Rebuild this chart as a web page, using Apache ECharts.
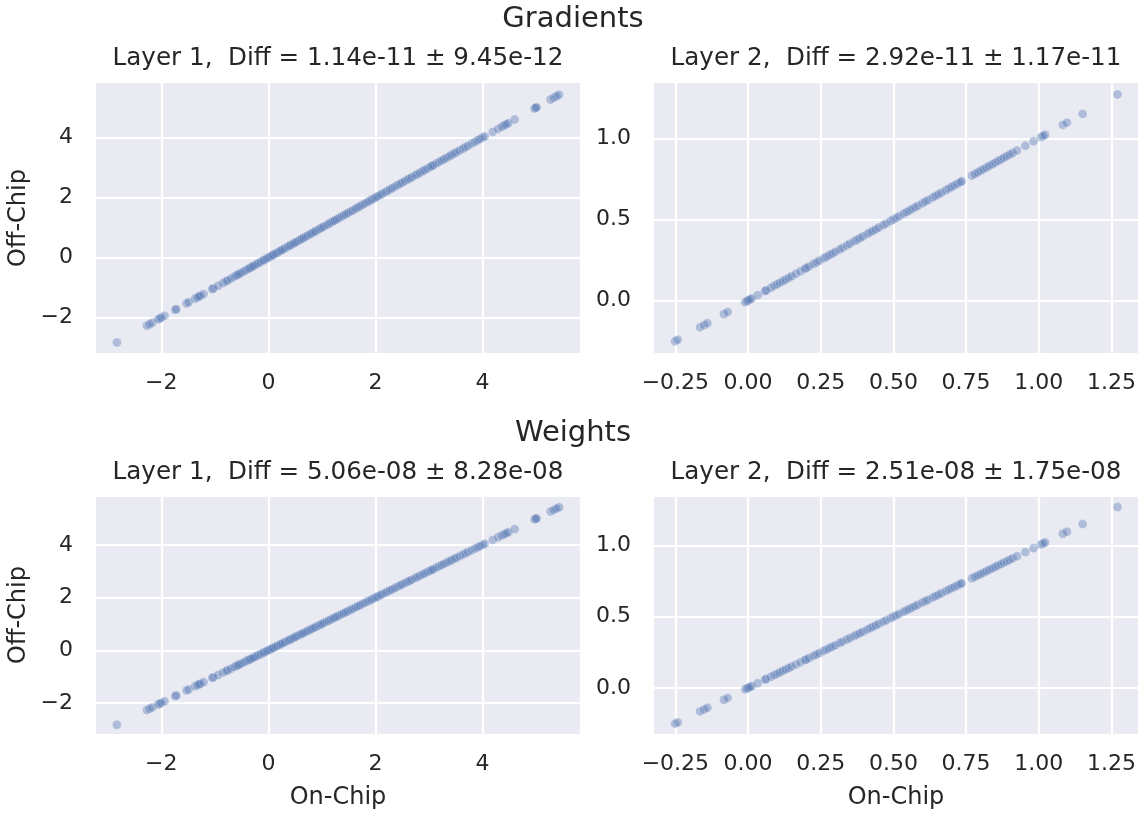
<!DOCTYPE html>
<html>
<head>
<meta charset="utf-8">
<script src="https://cdn.jsdelivr.net/npm/echarts@6/dist/echarts.min.js"></script>
<style>
html,body{margin:0;padding:0;background:#fff;}
#chart{width:1146px;height:819px;}
</style>
</head>
<body>
<div id="chart"></div>
<script>
// ---- Data (on-chip vs off-chip values) ----
const layer1OnChip = [-2.83,-2.27,-2.22,-2.17,-2.06,-2.03,-2.0,-1.94,-1.74,-1.72,-1.53,-1.49,-1.37,-1.33,-1.3,-1.27,-1.21,-1.05,-1.03,-0.94,-0.85,-0.79,-0.76,-0.7,-0.64,-0.6,-0.57,-0.54,-0.5,-0.45,-0.41,-0.37,-0.35,-0.32,-0.29,-0.26,-0.22,-0.18,-0.14,-0.1,-0.08,-0.04,-0.01,0.02,0.05,0.08,0.1,0.14,0.17,0.21,0.24,0.27,0.31,0.36,0.39,0.42,0.46,0.49,0.52,0.56,0.6,0.63,0.66,0.7,0.74,0.78,0.81,0.85,0.88,0.93,0.97,1.0,1.04,1.09,1.13,1.17,1.21,1.24,1.28,1.32,1.37,1.41,1.45,1.49,1.54,1.58,1.63,1.67,1.71,1.76,1.8,1.85,1.89,1.93,1.97,2.01,2.04,2.09,2.12,2.18,2.22,2.27,2.31,2.36,2.41,2.46,2.5,2.55,2.6,2.64,2.68,2.74,2.78,2.83,2.88,2.92,2.97,3.02,3.05,3.08,3.14,3.19,3.24,3.28,3.33,3.38,3.42,3.47,3.51,3.57,3.63,3.68,3.73,3.8,3.86,3.91,3.95,4.0,4.04,4.19,4.29,4.36,4.4,4.44,4.48,4.6,4.97,4.99,5.01,5.27,5.33,5.38,5.43];
const layer1OffChip = [-2.83,-2.27,-2.22,-2.17,-2.06,-2.03,-2.0,-1.94,-1.74,-1.72,-1.53,-1.49,-1.37,-1.33,-1.3,-1.27,-1.21,-1.05,-1.03,-0.94,-0.85,-0.79,-0.76,-0.7,-0.64,-0.6,-0.57,-0.54,-0.5,-0.45,-0.41,-0.37,-0.35,-0.32,-0.29,-0.26,-0.22,-0.18,-0.14,-0.1,-0.08,-0.04,-0.01,0.02,0.05,0.08,0.1,0.14,0.17,0.21,0.24,0.27,0.31,0.36,0.39,0.42,0.46,0.49,0.52,0.56,0.6,0.63,0.66,0.7,0.74,0.78,0.81,0.85,0.88,0.93,0.97,1.0,1.04,1.09,1.13,1.17,1.21,1.24,1.28,1.32,1.37,1.41,1.45,1.49,1.54,1.58,1.63,1.67,1.71,1.76,1.8,1.85,1.89,1.93,1.97,2.01,2.04,2.09,2.12,2.18,2.22,2.27,2.31,2.36,2.41,2.46,2.5,2.55,2.6,2.64,2.68,2.74,2.78,2.83,2.88,2.92,2.97,3.02,3.05,3.08,3.14,3.19,3.24,3.28,3.33,3.38,3.42,3.47,3.51,3.57,3.63,3.68,3.73,3.8,3.86,3.91,3.95,4.0,4.04,4.19,4.29,4.36,4.4,4.44,4.48,4.6,4.97,4.99,5.01,5.27,5.33,5.38,5.43];
const layer2OnChip = [-0.251,-0.242,-0.165,-0.151,-0.14,-0.083,-0.07,-0.01,-0.004,0.0,0.006,0.012,0.033,0.058,0.062,0.078,0.09,0.1,0.11,0.12,0.13,0.14,0.15,0.165,0.18,0.195,0.2,0.21,0.225,0.235,0.245,0.26,0.27,0.28,0.29,0.3,0.315,0.325,0.34,0.35,0.365,0.375,0.385,0.395,0.41,0.42,0.43,0.44,0.45,0.465,0.475,0.49,0.5,0.51,0.52,0.535,0.545,0.555,0.565,0.575,0.585,0.6,0.61,0.62,0.635,0.645,0.655,0.665,0.68,0.69,0.7,0.71,0.72,0.73,0.735,0.77,0.78,0.79,0.8,0.81,0.82,0.83,0.84,0.85,0.86,0.87,0.88,0.89,0.9,0.91,0.925,0.954,0.982,1.008,1.015,1.022,1.083,1.097,1.151,1.271];
const layer2OffChip = [-0.251,-0.242,-0.165,-0.151,-0.14,-0.083,-0.07,-0.01,-0.004,0.0,0.006,0.012,0.033,0.058,0.062,0.078,0.09,0.1,0.11,0.12,0.13,0.14,0.15,0.165,0.18,0.195,0.2,0.21,0.225,0.235,0.245,0.26,0.27,0.28,0.29,0.3,0.315,0.325,0.34,0.35,0.365,0.375,0.385,0.395,0.41,0.42,0.43,0.44,0.45,0.465,0.475,0.49,0.5,0.51,0.52,0.535,0.545,0.555,0.565,0.575,0.585,0.6,0.61,0.62,0.635,0.645,0.655,0.665,0.68,0.69,0.7,0.71,0.72,0.73,0.735,0.77,0.78,0.79,0.8,0.81,0.82,0.83,0.84,0.85,0.86,0.87,0.88,0.89,0.9,0.91,0.925,0.954,0.982,1.008,1.015,1.022,1.083,1.097,1.151,1.271];

// Tick values
const layer1Ticks = [-2, 0, 2, 4];
const layer2XTicks = [-0.25, 0, 0.25, 0.5, 0.75, 1.0, 1.25];
const layer2YTicks = [0, 0.5, 1.0];

// Titles
const rowTitles = ['Gradients', 'Weights'];
const panelTitles = [
  'Layer 1,  Diff = 1.14e-11 \u00b1 9.45e-12',
  'Layer 2,  Diff = 2.92e-11 \u00b1 1.17e-11',
  'Layer 1,  Diff = 5.06e-08 \u00b1 8.28e-08',
  'Layer 2,  Diff = 2.51e-08 \u00b1 1.75e-08'
];
const xAxisName = 'On-Chip';
const yAxisName = 'Off-Chip';

// ---- Chart ----
const FONT = 'DejaVu Sans';
const TXT = '#262626';
const fmtMinus = s => s.replace('-', '\u2212');

const grids = [
  {left: 96, top: 83, width: 484, height: 270},
  {left: 654, top: 83, width: 484, height: 270},
  {left: 96, top: 497, width: 484, height: 237},
  {left: 654, top: 497, width: 484, height: 237}
];

function valAxis(gi, dim, min, max, ticks, fmt) {
  return {
    type: 'value', gridIndex: gi, min: min, max: max,
    axisLine: {show: false},
    axisTick: {show: false, customValues: ticks},
    axisLabel: {
      customValues: ticks, color: TXT, fontFamily: FONT, fontSize: 22,
      margin: dim === 'x' ? 19 : 23,
      formatter: v => fmtMinus(fmt(v))
    },
    splitLine: {show: true, lineStyle: {color: '#ffffff', width: 2.2}}
  };
}

const f1 = v => String(Math.round(v));
const f2x = v => v.toFixed(2);
const f2y = v => v.toFixed(1);

const xAxes = [], yAxes = [], series = [];
const panels = [
  {on: layer1OnChip, off: layer1OffChip, xr: [-3.22, 5.82], yr: [-3.18, 5.82], xt: layer1Ticks, yt: layer1Ticks, fx: f1, fy: f1},
  {on: layer2OnChip, off: layer2OffChip, xr: [-0.3236, 1.3415], yr: [-0.3236, 1.3415], xt: layer2XTicks, yt: layer2YTicks, fx: f2x, fy: f2y}
];
for (let g = 0; g < 4; g++) {
  const p = panels[g % 2];
  xAxes.push(valAxis(g, 'x', p.xr[0], p.xr[1], p.xt, p.fx));
  yAxes.push(valAxis(g, 'y', p.yr[0], p.yr[1], p.yt, p.fy));
  series.push({
    type: 'scatter', xAxisIndex: g, yAxisIndex: g,
    symbolSize: 9,
    itemStyle: {color: '#4C72B0', opacity: 0.38, borderColor: '#ffffff', borderWidth: 0.6},
    emphasis: {disabled: true},
    data: p.on.map((v, i) => [v, p.off[i]])
  });
}

const textEl = (x, y, text, size, rot) => ({
  type: 'text', x: x, y: y, rotation: rot || 0,
  style: {text: text, fill: TXT, font: size + 'px "' + FONT + '"', align: 'center', verticalAlign: 'middle'}
});

const graphics = [
  textEl(573, 19, rowTitles[0], 29),
  textEl(573, 433, rowTitles[1], 29),
  textEl(338, 59, panelTitles[0], 24.6),
  textEl(896, 59, panelTitles[1], 24.6),
  textEl(338, 473, panelTitles[2], 24.6),
  textEl(896, 473, panelTitles[3], 24.6),
  textEl(338, 798, xAxisName, 24),
  textEl(896, 798, xAxisName, 24),
  textEl(19, 218, yAxisName, 24, Math.PI / 2),
  textEl(19, 615, yAxisName, 24, Math.PI / 2)
];

const chart = echarts.init(document.getElementById('chart'), null, {renderer: 'canvas'});
chart.setOption({
  backgroundColor: '#ffffff',
  animation: false,
  grid: grids.map(g => Object.assign({show: true, backgroundColor: '#EAEAF2', borderWidth: 0, containLabel: false}, g)),
  xAxis: xAxes,
  yAxis: yAxes,
  series: series,
  graphic: graphics
});
</script>
</body>
</html>
